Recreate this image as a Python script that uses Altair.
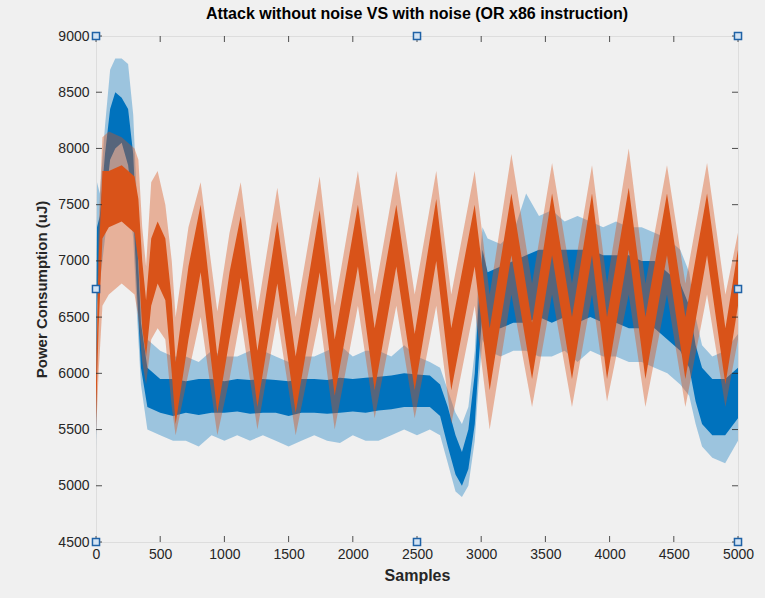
import altair as alt
import pandas as pd

# ---------------- data ----------------
# Blue series (attack without noise): knots with spike-low, core-low, core-high, spike-high
B_X = [0, 8, 30, 70, 110, 150, 200, 250, 290, 320, 350, 400, 500, 600, 700, 800, 900, 1000,
       1100, 1200, 1300, 1400, 1500, 1600, 1700, 1800, 1900, 2000, 2100, 2200, 2300, 2400,
       2500, 2600, 2680, 2740, 2800, 2850, 2900, 2950, 2980, 3010, 3050, 3150, 3250, 3350,
       3450, 3550, 3650, 3750, 3850, 3950, 4050, 4150, 4250, 4350, 4450, 4550, 4620, 4670,
       4720, 4800, 4900, 5000]
B_SLO = [5300, 6300, 6800, 7200, 7600, 7700, 7800, 7600, 7200, 6500, 5900, 5500, 5450, 5400,
         5400, 5350, 5450, 5400, 5450, 5400, 5450, 5400, 5350, 5400, 5450, 5400, 5380, 5450,
         5400, 5400, 5450, 5500, 5450, 5500, 5450, 5200, 4950, 4900, 5000, 5400, 5900, 6300,
         6200, 6150, 6200, 6200, 6150, 6150, 6200, 6100, 6200, 6150, 6150, 6100, 6100, 6050,
         6000, 5900, 5800, 5550, 5350, 5250, 5200, 5400]
B_CLO = [5400, 6600, 7000, 7500, 7900, 8000, 8050, 7850, 7450, 6700, 6050, 5700, 5650, 5620,
         5650, 5630, 5650, 5650, 5660, 5640, 5650, 5650, 5620, 5650, 5650, 5640, 5650, 5660,
         5650, 5670, 5680, 5700, 5700, 5700, 5620, 5350, 5100, 5000, 5150, 5550, 6100, 6550,
         6400, 6400, 6450, 6450, 6500, 6450, 6500, 6450, 6500, 6450, 6450, 6400, 6400, 6400,
         6300, 6200, 6050, 5750, 5550, 5450, 5450, 5600]
B_CHI = [5800, 7300, 7400, 7950, 8350, 8500, 8450, 8350, 7950, 7200, 6450, 6050, 5950, 5950,
         5930, 5950, 5950, 5930, 5950, 5940, 5950, 5940, 5930, 5950, 5950, 5940, 5960, 5950,
         5960, 5970, 5980, 6000, 5990, 5980, 5900, 5700, 5450, 5300, 5500, 6000, 6650, 7100,
         6900, 6950, 7000, 7050, 7100, 7100, 7100, 7100, 7100, 7050, 7050, 7050, 7000, 7000,
         6900, 6800, 6600, 6250, 6050, 5950, 5950, 6050]
B_SHI = [6200, 7700, 7600, 8200, 8700, 8800, 8800, 8750, 8300, 7500, 6700, 6300, 6200, 6150,
         6150, 6100, 6200, 6150, 6150, 6200, 6200, 6150, 6100, 6150, 6150, 6200, 6250, 6150,
         6200, 6200, 6150, 6250, 6150, 6100, 6050, 5850, 5650, 5550, 5700, 6200, 6900, 7300,
         7200, 7150, 7250, 7600, 7400, 7450, 7350, 7400, 7350, 7300, 7350, 7300, 7300, 7250,
         7200, 7100, 6900, 6500, 6250, 6150, 6200, 6350]

# Orange series (attack with noise)
O_X = [0, 20, 50, 100, 200, 300, 330, 360, 390, 430, 480, 540, 590, 620, 720, 815, 945, 1040,
       1127, 1257, 1412, 1555, 1742, 1859, 2040, 2170, 2339, 2482, 2650, 2767, 2949, 3066,
       3235, 3396, 3552, 3707, 3863, 3980, 4149, 4279, 4447, 4590, 4759, 4902, 5000]
O_SLO = [5450, 6000, 6600, 6700, 6800, 6700, 6500, 6100, 5900, 6300, 6400, 6300, 5700, 5450,
         6000, 6500, 5450, 5950, 6500, 5500, 6500, 5450, 6500, 5500, 6600, 5600, 6600, 5600,
         6600, 5550, 6600, 5500, 6700, 5700, 6700, 5700, 6700, 5750, 6700, 5700, 6700, 5700,
         6700, 5700, 6300]
O_CLO = [5600, 6400, 7200, 7300, 7350, 7250, 7000, 6400, 6150, 6600, 6800, 6650, 6000, 5550,
         6300, 6900, 5650, 6300, 6850, 5700, 6800, 5650, 6900, 5800, 6950, 5850, 6950, 5850,
         7000, 5850, 6950, 5850, 7050, 5950, 7050, 5950, 7050, 5950, 7100, 5950, 7050, 5950,
         7050, 5900, 6600]
O_CHI = [5900, 7000, 7800, 7800, 7850, 7750, 7550, 7000, 6650, 7200, 7350, 7200, 6650, 6100,
         6950, 7500, 6150, 6900, 7400, 6200, 7350, 6150, 7450, 6300, 7500, 6400, 7500, 6350,
         7550, 6400, 7500, 6400, 7600, 6450, 7600, 6500, 7600, 6500, 7650, 6500, 7600, 6500,
         7600, 6400, 7100]
O_SHI = [6200, 7300, 8100, 8150, 8100, 8000, 7900, 7300, 6950, 7700, 7800, 7500, 7000, 6500,
         7300, 7700, 6550, 7250, 7700, 6550, 7650, 6500, 7750, 6600, 7800, 6700, 7800, 6700,
         7800, 6700, 7800, 6700, 7950, 6800, 7870, 6800, 7850, 6800, 8000, 6800, 7850, 6800,
         7870, 6700, 7250]

X_TICKS = [0, 500, 1000, 1500, 2000, 2500, 3000, 3500, 4000, 4500, 5000]
Y_TICKS = [4500, 5000, 5500, 6000, 6500, 7000, 7500, 8000, 8500, 9000]

# selection handles of the axes (MATLAB edit mode)
H_X = [0, 2500, 5000, 0, 5000, 0, 2500, 5000]
H_Y = [9000, 9000, 9000, 6750, 6750, 4500, 4500, 4500]

TITLE = "Attack without noise VS with noise (OR x86 instruction)"

# ---------------- chart ----------------
BLUE = "#0072BD"
ORANGE = "#D95319"
AXC = "#262626"
W, H = 642, 506
FONT = "Liberation Sans"

bdf = pd.DataFrame({"x": B_X, "slo": B_SLO, "clo": B_CLO, "chi": B_CHI, "shi": B_SHI})
odf = pd.DataFrame({"x": O_X, "slo": O_SLO, "clo": O_CLO, "chi": O_CHI, "shi": O_SHI})
xt = pd.DataFrame({"v": X_TICKS})
yt = pd.DataFrame({"v": Y_TICKS})
hd = pd.DataFrame({"x": H_X, "y": H_Y})

xs = alt.Scale(domain=[0, 5000], nice=False, zero=False)
ys = alt.Scale(domain=[4500, 9000], nice=False, zero=False)

x_axis = alt.Axis(values=X_TICKS, title="Samples", labelFontSize=14, labelColor=AXC,
                  ticks=False, tickSize=0, domain=False, grid=False, labelPadding=5,
                  labelFlush=False, labelOverlap=False, titleFontSize=16,
                  titleFontWeight="bold", titleColor=AXC, titlePadding=6, format="d")
y_axis = alt.Axis(values=Y_TICKS, title="Power Consumption (uJ)", labelFontSize=14,
                  labelColor=AXC, ticks=False, tickSize=0, domain=False, grid=False,
                  labelPadding=7, labelFlush=False, labelOverlap=False, titleFontSize=15,
                  titleFontWeight="bold", titleColor=AXC, titlePadding=8, format="d")


def band(df, lo, hi, color, opacity):
    return alt.Chart(df).mark_area(color=color, opacity=opacity, strokeWidth=0).encode(
        x=alt.X("x:Q", scale=xs, axis=x_axis),
        y=alt.Y(f"{lo}:Q", scale=ys, axis=y_axis),
        y2=alt.Y2(f"{hi}:Q"),
    )


layers = [
    band(bdf, "slo", "shi", BLUE, 0.35),
    band(bdf, "clo", "chi", BLUE, 1.0),
    band(odf, "slo", "shi", ORANGE, 0.4),
    band(odf, "clo", "chi", ORANGE, 1.0),
]

tick_len = 6
xb = alt.Chart(xt).mark_rule(color=AXC, strokeWidth=0.8).encode(
    x=alt.X("v:Q", scale=xs, axis=x_axis), y=alt.value(H), y2=alt.value(H - tick_len))
xtop = alt.Chart(xt).mark_rule(color=AXC, strokeWidth=0.8).encode(
    x=alt.X("v:Q", scale=xs, axis=x_axis), y=alt.value(0), y2=alt.value(tick_len))
yl = alt.Chart(yt).mark_rule(color=AXC, strokeWidth=0.8).encode(
    y=alt.Y("v:Q", scale=ys, axis=y_axis), x=alt.value(0), x2=alt.value(tick_len))
yr = alt.Chart(yt).mark_rule(color=AXC, strokeWidth=0.8).encode(
    y=alt.Y("v:Q", scale=ys, axis=y_axis), x=alt.value(W), x2=alt.value(W - tick_len))

handles = alt.Chart(hd).mark_square(fill="#d3e3f3", stroke="#1f62a6", strokeWidth=1.5,
                                    size=50, opacity=1, clip=False).encode(
    x=alt.X("x:Q", scale=xs, axis=x_axis), y=alt.Y("y:Q", scale=ys, axis=y_axis))

chart = alt.layer(*layers, xb, xtop, yl, yr, handles).properties(
    width=W, height=H,
    title=alt.TitleParams(TITLE, fontSize=16, fontWeight="bold", color="#000000",
                          anchor="middle", frame="group", offset=7, font=FONT),
    autosize=alt.AutoSizeParams(type="none"),
    padding={"left": 96, "top": 36, "right": 27, "bottom": 56},
    background="#f0f0f0",
).configure_view(fill="white", stroke=AXC, strokeWidth=1).configure(font=FONT)

chart.save("out.html", embed_options={"renderer": "svg", "actions": False})
